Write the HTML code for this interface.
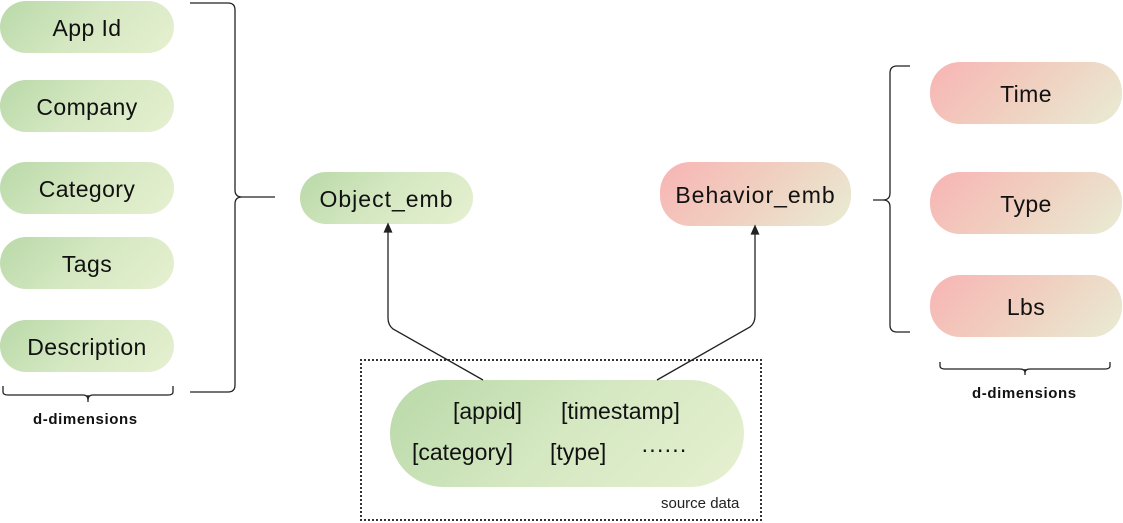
<!DOCTYPE html>
<html><head><style>
body{margin:0;width:1123px;height:523px;background:#fff;position:relative;font-family:"Liberation Sans",sans-serif;overflow:hidden}
.p{position:absolute;border-radius:30px;display:flex;align-items:center;justify-content:center;font-size:23px;color:#111;padding-top:3px;box-sizing:border-box;letter-spacing:0.4px}
.g{background:linear-gradient(135deg,#b9d9a8 0%,#d5e8c2 50%,#e6f0d0 100%)}
.r{background:linear-gradient(135deg,#f8b4b4 0%,#f0d0c0 50%,#e8ecd4 100%)}
.lbl{position:absolute;font-weight:bold;font-size:15px;color:#111;letter-spacing:0.6px}
.t{position:absolute;font-size:23px;color:#111}
</style></head><body>
<div class="p g" style="left:0;top:1px;width:174px;height:52px">App Id</div>
<div class="p g" style="left:0;top:80px;width:174px;height:52px">Company</div>
<div class="p g" style="left:0;top:162px;width:174px;height:52px">Category</div>
<div class="p g" style="left:0;top:237px;width:174px;height:52px">Tags</div>
<div class="p g" style="left:0;top:320px;width:174px;height:52px">Description</div>
<div class="lbl" style="left:33px;top:411px">d-dimensions</div>
<div class="p g" style="left:300px;top:172px;width:173px;height:52px;font-size:23px;letter-spacing:1px">Object_emb</div>
<div class="p r" style="left:660px;top:162px;width:191px;height:64px;font-size:23px;letter-spacing:1px">Behavior_emb</div>
<div class="p r" style="left:930px;top:62px;width:192px;height:62px">Time</div>
<div class="p r" style="left:930px;top:172px;width:192px;height:62px">Type</div>
<div class="p r" style="left:930px;top:275px;width:192px;height:62px">Lbs</div>
<div class="lbl" style="left:972px;top:385px">d-dimensions</div>
<div style="position:absolute;left:360px;top:359px;width:402px;height:162px;border:2px dotted #333;box-sizing:border-box"></div>
<div class="g" style="position:absolute;left:390px;top:380px;width:354px;height:107px;border-radius:54px"></div>
<div class="t" style="left:453px;top:398px">[appid]</div>
<div class="t" style="left:561px;top:398px">[timestamp]</div>
<div class="t" style="left:412px;top:439px">[category]</div>
<div class="t" style="left:550px;top:439px">[type]</div>
<div class="t" style="left:641px;top:436px">······</div>
<div style="position:absolute;left:661px;top:495px;font-size:15px;color:#222">source data</div>
<svg width="1123" height="523" style="position:absolute;left:0;top:0" fill="none" stroke="#222" stroke-width="1.3">
<path d="M190 3 H228 Q235 3 235 10 V190 Q235 197 242 197 H275 M242 197 Q235 197 235 204 V385 Q235 392 228 392 H190"/>
<path d="M3 386 V392 Q3 395 8 395 H83 Q88 395 88 400 Q88 395 93 395 H168 Q173 395 173 392 V386 M88 395 V402"/>
<path d="M910 66 H897 Q890 66 890 73 V193 Q890 200 883 200 H873 M883 200 Q890 200 890 207 V325 Q890 332 897 332 H910"/>
<path d="M940 362 V366 Q940 369 945 369 H1020 Q1025 369 1025 373 Q1025 369 1030 369 H1105 Q1110 369 1110 366 V362 M1025 369 V375"/>
<path d="M483 380 L393 329 Q388 325 388 318 V230"/>
<path d="M657 380 L750 327 Q755 323 755 316 V232"/>
<path d="M388 224 l-3.5 8 h7 z M755 226 l-3.5 8 h7 z" fill="#222"/>
</svg>
</body></html>
